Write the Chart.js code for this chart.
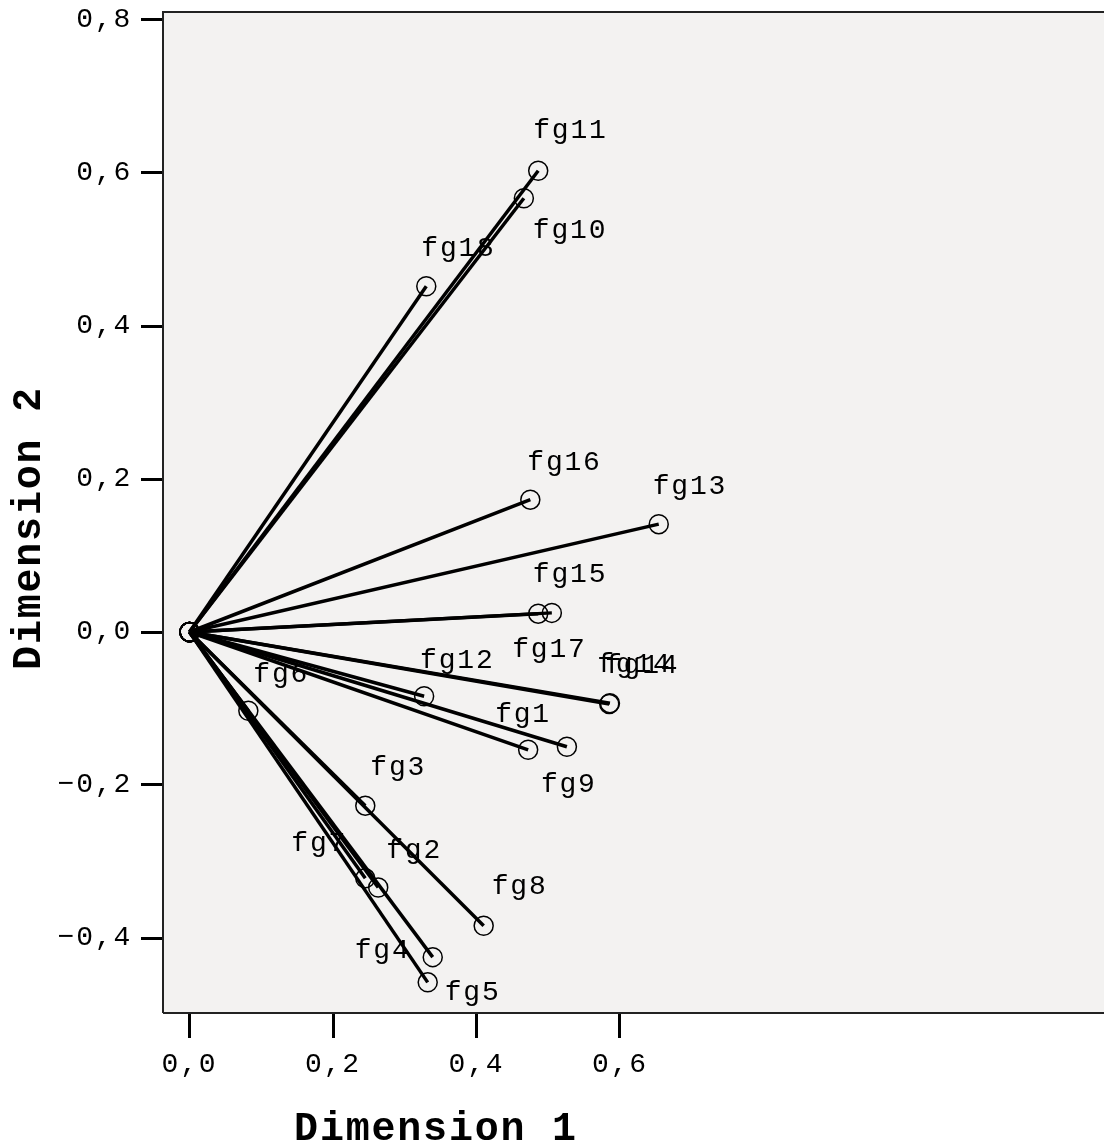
<!DOCTYPE html>
<html>
<head>
<meta charset="utf-8">
<script src="https://cdn.jsdelivr.net/npm/chart.js@4"></script>
<style>
html, body { margin: 0; padding: 0; background: #fff; }
</style>
</head>
<body>
<canvas id="myChart" width="1104" height="1146"></canvas>
<script>
// Component loadings
const names = ['fg11', 'fg10', 'fg18', 'fg16', 'fg13', 'fg15', 'fg17', 'fg14', 'fg14', 'fg12',
               'fg1', 'fg9', 'fg6', 'fg3', 'fg7', 'fg2', 'fg8', 'fg4', 'fg5'];
const dim1 = [0.486, 0.466, 0.330, 0.475, 0.654, 0.505, 0.486, 0.585, 0.586, 0.327,
              0.472, 0.526, 0.082, 0.245, 0.245, 0.263, 0.410, 0.339, 0.332];
const dim2 = [0.603, 0.567, 0.452, 0.173, 0.141, 0.025, 0.024, -0.094, -0.093, -0.084,
              -0.154, -0.150, -0.103, -0.227, -0.322, -0.334, -0.384, -0.425, -0.458];
const xTicks = [0, 0.2, 0.4, 0.6];
const yTicks = [-0.4, -0.2, 0, 0.2, 0.4, 0.6, 0.8];
const xTitle = 'Dimension 1';
const yTitle = 'Dimension 2';

// where each label sits relative to its point (px)
const labelShift = [[-5, -40], [9, 32], [-5, -38], [-3, -37], [-6, -38], [-19, -38], [-26, 36],
                    [-12, -39], [-5, -38], [-4, -36], [-33, -35], [-26, 38], [5, -36], [5, -38],
                    [-74, -35], [8, -37], [8, -39], [-78, -7], [17, 10]];

const monoFont = '"Liberation Mono", "DejaVu Sans Mono", monospace';

function fmt(v) {
    return v.toFixed(1).replace('.', ',').replace('-', '\u2212');
}

// letter spacing gets lost whenever the canvas is resized, so set it again
const spacing = {
    id: 'spacing',
    beforeUpdate(chart) { chart.ctx.letterSpacing = '1.8px'; },
    beforeDraw(chart) { chart.ctx.letterSpacing = '1.8px'; }
};

// grey plot background + frame
const frame = {
    id: 'frame',
    beforeDatasetsDraw(chart) {
        const { ctx, chartArea: a } = chart;
        ctx.save();
        ctx.fillStyle = '#f3f2f1';
        ctx.fillRect(a.left, a.top, a.right - a.left, a.bottom - a.top);
        ctx.strokeStyle = '#222';
        ctx.lineWidth = 2;
        ctx.beginPath();
        ctx.moveTo(a.left, a.bottom);
        ctx.lineTo(a.left, a.top);
        ctx.lineTo(a.right, a.top);
        ctx.moveTo(a.left, a.bottom);
        ctx.lineTo(a.right, a.bottom);
        ctx.stroke();

        // labels go under the lines, like in the original
        ctx.fillStyle = '#000';
        ctx.font = '28px ' + monoFont;
        ctx.textAlign = 'left';
        ctx.textBaseline = 'middle';
        names.forEach((n, i) => {
            const pt = chart.getDatasetMeta(i).data[1];
            ctx.fillText(n, pt.x + labelShift[i][0], pt.y + labelShift[i][1]);
        });
        ctx.restore();
    }
};

// axis titles
const titles = {
    id: 'titles',
    afterDraw(chart) {
        const ctx = chart.ctx;
        ctx.save();
        ctx.fillStyle = '#000';
        ctx.font = 'bold 40px ' + monoFont;
        ctx.textAlign = 'center';
        ctx.textBaseline = 'middle';
        ctx.fillText(xTitle, 436, 1130);
        ctx.translate(30, 528);
        ctx.rotate(-Math.PI / 2);
        ctx.fillText(yTitle, 0, 0);
        ctx.restore();
    }
};

const ctx = document.getElementById('myChart').getContext('2d');
new Chart(ctx, {
    type: 'scatter',
    data: {
        datasets: names.map((n, i) => ({
            label: n,
            data: [{ x: 0, y: 0 }, { x: dim1[i], y: dim2[i] }],
            showLine: true,
            borderColor: '#000',
            borderWidth: 3.5,
            pointRadius: 9.5,
            pointBorderWidth: 1.5,
            pointBorderColor: '#000',
            pointBackgroundColor: 'rgba(0,0,0,0)'
        }))
    },
    options: {
        responsive: false,
        animation: false,
        layout: { autoPadding: false, padding: { top: 12, left: 0, right: 0, bottom: 0 } },
        plugins: { legend: { display: false }, tooltip: { enabled: false } },
        scales: {
            x: {
                min: (163 - 189.5) / 717.5,
                max: (1104 - 189.5) / 717.5,
                afterBuildTicks(scale) { scale.ticks = xTicks.map(v => ({ value: v })); },
                afterFit(scale) {
                    scale.height = 133;
                    scale.paddingLeft = 0;
                    scale.paddingRight = 0;
                },
                border: { display: false },
                grid: { drawOnChartArea: false, tickLength: 25, tickWidth: 3, tickColor: '#000' },
                ticks: {
                    color: '#000',
                    padding: 10,
                    maxRotation: 0,
                    font: { family: monoFont, size: 28 },
                    callback: v => fmt(v)
                }
            },
            y: {
                min: (632 - 1013) / 765,
                max: (632 - 12) / 765,
                afterBuildTicks(scale) { scale.ticks = yTicks.map(v => ({ value: v })); },
                afterFit(scale) {
                    scale.width = 163;
                    scale.paddingTop = 0;
                    scale.paddingBottom = 0;
                },
                border: { display: false },
                grid: { drawOnChartArea: false, tickLength: 22, tickWidth: 3, tickColor: '#000' },
                ticks: {
                    color: '#000',
                    padding: 9,
                    font: { family: monoFont, size: 28 },
                    callback: v => fmt(v)
                }
            }
        }
    },
    plugins: [spacing, frame, titles]
});
</script>
</body>
</html>
